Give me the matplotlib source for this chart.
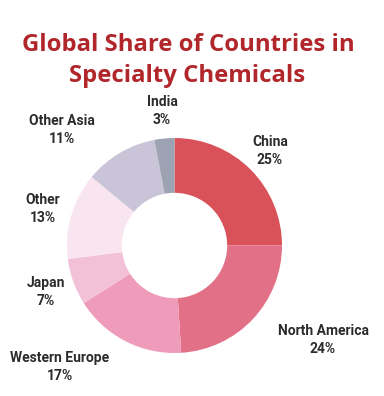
import matplotlib
matplotlib.use('Agg')
import matplotlib.pyplot as plt

# data
regions = ['China', 'North America', 'Western Europe', 'Japan', 'Other', 'Other Asia', 'India']
shares = [25, 24, 17, 7, 13, 11, 3]
colors = ['#d9525a', '#e27086', '#ee9cb9', '#f2c0d7', '#f9e5ef', '#c9c4d7', '#9ea3b4']
# label centres in pixels (from top-left)
label_pos = [(270, 151), (323, 340), (60, 367), (46, 292), (43, 209), (62, 130), (162, 111)]

W, H = 384, 396
fig = plt.figure(figsize=(W / 100, H / 100), dpi=100)
ax = fig.add_axes([0, 0, 1, 1])

cx, cy, R = 174.5, H - 245.5, 107.5
ax.pie(shares, colors=colors, startangle=90, counterclock=False,
       center=(cx, cy), radius=R, frame=True,
       wedgeprops=dict(width=R * 0.51, edgecolor='none'))
ax.set_xlim(0, W)
ax.set_ylim(0, H)
ax.set_aspect('equal')
ax.axis('off')

for name, val, (x, y) in zip(regions, shares, label_pos):
    ax.text(x, H - y, f'{name}\n{val}%', ha='center', va='center',
            fontsize=10, fontweight='bold', family='Roboto',
            color='#2b2b2b', linespacing=1.3)

title_kw = dict(ha='center', va='center', fontsize=17.2, fontweight='bold',
                family='Open Sans', fontstretch='condensed', color='#b0262b')
ax.text(188, H - 45, 'Global Share of Countries in', **title_kw)
ax.text(187, H - 76, 'Specialty Chemicals', **title_kw)

fig.savefig('out.png', dpi=100, facecolor='white')
